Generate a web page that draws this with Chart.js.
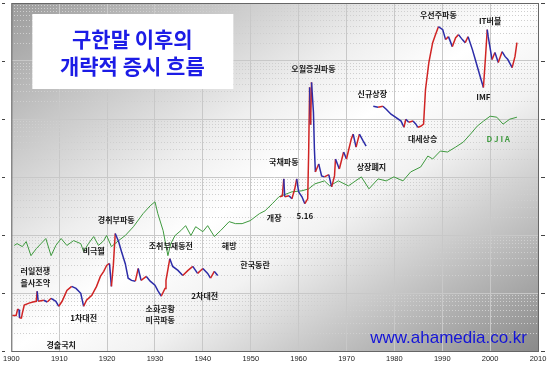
<!DOCTYPE html>
<html>
<head>
<meta charset="utf-8">
<script src="https://cdn.jsdelivr.net/npm/chart.js@4"></script>
<style>
  body { margin: 0; background: #fff; }
</style>
</head>
<body>
<canvas id="c" width="550" height="369"></canvas>
<script>
// Korean market index, three separate periods
const korYears1 = [1900.2,1901.0,1901.3,1901.6,1901.7,1902.1,1902.3,1902.7,1903.7,1904.5,1905.2,1905.4,1905.6,1906.8,1907.5,1908.3,1909.3,1909.9,1910.6,1911.6,1912.6,1913.5,1914.5,1915.1,1915.7,1916.8,1917.8,1918.6,1919.3,1919.9,1920.5,1920.9,1921.3,1921.7,1922.4,1923.0,1923.8,1924.4,1925.1,1925.9,1926.5,1927.1,1928.2,1929.0,1930.0,1930.6,1931.3,1932.1,1932.3,1933.1,1933.7,1934.8,1935.8,1936.9,1937.9,1938.9,1940.0,1941.0,1941.6,1942.4,1943.1];
const korVals1 = [4.1,4.1,5.2,5.2,3.7,3.7,4.5,6.2,6.7,7.0,7.2,10.7,7.2,7.5,7.0,8.1,7.2,5.9,7.2,11.1,13.0,12.0,9.9,5.9,7.5,9.1,13.0,19.3,23.6,29.9,32.3,13.0,29.9,106,77,52,32,18,16.5,16,26.5,16.5,19.3,16,13.6,11,8.8,12,16.5,39,28.7,24.5,20,24.5,28.7,21.8,26.5,21.8,18,23.6,20];

const korYears2 = [1956.1,1956.6,1956.9,1957.1,1958.0,1958.6,1959.2,1959.6,1960.0,1960.7,1961.3,1961.9,1962.1,1962.3,1962.5,1962.7,1963.1,1963.3,1963.5,1964.2,1964.8,1965.4,1966.3,1966.9,1967.5,1967.7,1968.5,1969.4,1970.0,1971.0,1971.4,1972.0,1972.7,1973.5,1974.1];
const korVals2 = [456,470,927,456,474,421,625,927,555,456,346,421,2700,35100,8000,42800,13090,3034,1223,1679,1045,1004,1100,676,1045,2044,1377,2694,2044,4508,5486,3281,5486,4159,3415];

const korYears3 = [1975.6,1976.6,1977.6,1978.3,1979.3,1980.3,1981.4,1982.0,1982.4,1983.0,1983.9,1984.5,1984.9,1985.5,1986.1,1986.5,1987.2,1988.0,1988.6,1989.2,1990.1,1990.7,1991.3,1992.1,1992.8,1993.4,1994.2,1994.8,1995.4,1996.3,1996.9,1997.5,1998.1,1998.6,1999.0,1999.4,1999.6,2000.4,2001.0,2001.7,2002.5,2003.1,2003.7,2004.6,2005.2,2005.6];
const korVals3 = [16600,15900,16600,14700,12100,10700,9200,7200,9900,8800,9200,8150,7200,7500,8150,32000,94000,207000,285000,390000,347000,234000,263000,177000,253000,285000,234000,207000,263000,157000,106000,71500,48000,35000,106000,347000,263000,106000,140000,94000,145000,120000,106000,77000,120000,207000];

// DJIA
const djiaYears = [1900.6,1901.2,1902.3,1903.1,1904.1,1905.2,1906.2,1907.2,1908.3,1909.3,1910.4,1911.6,1913.0,1914.5,1915.1,1916.1,1917.2,1918.2,1919.3,1919.9,1920.9,1922.4,1923.8,1925.5,1927.5,1929.0,1930.0,1930.6,1931.7,1932.7,1933.3,1934.2,1935.4,1936.4,1937.5,1938.5,1940.0,1941.0,1942.4,1943.7,1945.5,1946.8,1948.2,1949.9,1951.8,1953.0,1954.5,1955.9,1958.6,1960.7,1962.1,1963.4,1965.4,1966.5,1968.3,1970.4,1973.1,1974.7,1976.6,1978.3,1979.9,1981.8,1983.4,1985.5,1987.0,1988.0,1989.6,1991.1,1992.8,1994.4,1995.9,1997.3,1998.6,2000.0,2001.4,2002.7,2004.1,2005.6];
const djiaVals = [66,71,63,77,44,58,71,87,44,66,87,66,80,71,52,71,94,66,80,98,63,80,98,139,233,319,374,233,119,44,71,98,119,145,98,139,114,145,94,119,170,157,157,177,233,262,346,456,555,578,625,762,857,703,857,703,1004,625,927,857,1004,857,1223,1490,2300,2044,2803,2697,3281,4000,5486,7530,9170,11170,10740,8150,9930,10740];

// axes
const xTicks = [1900,1910,1920,1930,1940,1950,1960,1970,1980,1990,2000,2010];
const yMajor = [1,10,100,1000,10000,100000,1000000];
const yMinor = [];
yMajor.slice(0, -1).forEach(d => { for (let m = 2; m <= 9; m++) yMinor.push(m * d); });

// event labels: text, year, level
const eventText = ['러일전쟁','을사조약','1차대전','경술국치','비극웰','경취부파동','조취부재동전','해방','한국동란','2차대전','소화공황','미곡파동','개장','5.16','국채파동','오월증권파동','상장폐지','신규상장','대세상승','우선주파동','IT버블','IMF'];
const eventYear = [1905.0,1905.0,1915.1,1910.4,1917.2,1921.9,1933.3,1945.5,1950.9,1940.4,1931.1,1931.1,1954.9,1961.3,1956.9,1963.1,1975.2,1975.4,1985.9,1989.2,2000.0,1998.6];
const eventLevel = [23.6,14.7,3.7,1.27,54,184,66,66,30,8.8,5.25,3.4,199,215,1815,71500,1490,26600,4500,628000,495000,23700];

const titleLines = ['구한말 이후의', '개략적 증시 흐름'];
const siteText = 'www.ahamedia.co.kr';

const RED = '#d02424';
const NAVY = '#2c2ca8';
const GREEN = '#3f9a3f';
const FONT = '"Noto Sans CJK KR", "Noto Sans", sans-serif';

function pts(xs, ys) { return xs.map((x, i) => ({ x: x, y: ys[i] })); }

function korSet(xs, ys) {
  return {
    data: pts(xs, ys),
    borderWidth: 1.5,
    borderColor: NAVY,
    pointRadius: 0,
    tension: 0,
    segment: {
      borderColor: ctx => ctx.p1.parsed.y >= ctx.p0.parsed.y ? RED : NAVY
    }
  };
}

const bgPlugin = {
  id: 'bg',
  beforeDraw(chart) {
    const { ctx, chartArea: a } = chart;
    ctx.save();
    ctx.translate(a.left, a.top);
    ctx.scale(a.right - a.left, a.bottom - a.top);
    const g = ctx.createLinearGradient(0, 0, 1, 1);
    g.addColorStop(0, '#9c9c9c');
    g.addColorStop(0.38, '#eeeeee');
    g.addColorStop(0.5, '#ffffff');
    g.addColorStop(0.62, '#f2f2f2');
    g.addColorStop(1, '#8a8a8a');
    ctx.fillStyle = g;
    ctx.fillRect(0, 0, 1, 1);
    ctx.restore();
  },
  beforeDatasetsDraw(chart) {
    // title box
    const { ctx, chartArea: a } = chart;
    ctx.save();
    ctx.fillStyle = '#ffffff';
    ctx.fillRect(a.left + 21, a.top + 11, 201, 75);
    ctx.fillStyle = '#1c1ce6';
    ctx.font = 'bold 21px ' + FONT;
    ctx.textAlign = 'center';
    ctx.textBaseline = 'middle';
    const cx = a.left + 121;
    ctx.fillText(titleLines[0], cx, a.top + 36);
    ctx.fillText(titleLines[1], cx, a.top + 63);
    ctx.restore();
  },
  afterDatasetsDraw(chart) {
    const { ctx, scales } = chart;
    ctx.save();
    ctx.textAlign = 'center';
    ctx.textBaseline = 'middle';
    ctx.font = 'bold 8px ' + FONT;
    ctx.fillStyle = '#1a1a1a';
    eventText.forEach((t, i) => {
      ctx.fillText(t, scales.x.getPixelForValue(eventYear[i]), scales.y.getPixelForValue(eventLevel[i]));
    });
    ctx.fillStyle = GREEN;
    ctx.fillText('D J I A', scales.x.getPixelForValue(2001.7), scales.y.getPixelForValue(4500));
    ctx.font = '17px "Liberation Sans", Arial, sans-serif';
    ctx.fillStyle = '#1414d8';
    ctx.textAlign = 'right';
    ctx.fillText(siteText, chart.chartArea.right - 11, chart.chartArea.bottom - 13);
    ctx.restore();
  },
  afterDraw(chart) {
    const { ctx, chartArea: a, scales } = chart;
    ctx.save();
    ctx.strokeStyle = '#666';
    ctx.lineWidth = 1;
    ctx.strokeRect(a.left + 0.5, a.top + 0.5, a.right - a.left, a.bottom - a.top);
    ctx.strokeStyle = '#444';
    yMajor.forEach(v => {
      const y = Math.round(scales.y.getPixelForValue(v)) + 0.5;
      ctx.beginPath();
      ctx.moveTo(2, y); ctx.lineTo(5, y);
      ctx.moveTo(a.right + 3, y); ctx.lineTo(a.right + 7, y);
      ctx.stroke();
    });
    ctx.restore();
  }
};

new Chart(document.getElementById('c'), {
  type: 'line',
  data: {
    datasets: [
      korSet(korYears1, korVals1),
      korSet(korYears2, korVals2),
      korSet(korYears3, korVals3),
      {
        data: pts(djiaYears, djiaVals),
        borderColor: GREEN,
        borderWidth: 1,
        pointRadius: 0,
        tension: 0
      }
    ]
  },
  plugins: [bgPlugin],
  options: {
    responsive: false,
    animation: false,
    devicePixelRatio: 1,
    layout: { padding: { left: 8, right: 12, top: 3, bottom: 3 } },
    plugins: { legend: { display: false }, tooltip: { enabled: false } },
    scales: {
      x: {
        type: 'linear',
        min: 1900,
        max: 2010,
        afterBuildTicks: s => { s.ticks = xTicks.map(v => ({ value: v })); },
        ticks: {
          font: { size: 7.5, family: '"Liberation Sans", Arial, sans-serif' },
          color: '#222',
          padding: 3,
          maxRotation: 0,
          autoSkip: false,
          callback: v => String(v)
        },
        grid: { color: '#c8c8c8', drawTicks: false },
        border: { display: false }
      },
      y: {
        type: 'logarithmic',
        min: 1,
        max: 1000000,
        afterBuildTicks: s => { s.ticks = yMajor.map(v => ({ value: v })); },
        ticks: { display: false },
        grid: { color: '#c8c8c8', drawTicks: false },
        border: { display: false }
      },
      yMinor: {
        type: 'logarithmic',
        position: 'left',
        min: 1,
        max: 1000000,
        afterBuildTicks: s => { s.ticks = yMinor.map(v => ({ value: v })); },
        ticks: { display: false },
        grid: { color: '#cfcfcf', drawTicks: false },
        border: { display: false, dash: [1, 2] }
      }
    }
  }
});
</script>
</body>
</html>
